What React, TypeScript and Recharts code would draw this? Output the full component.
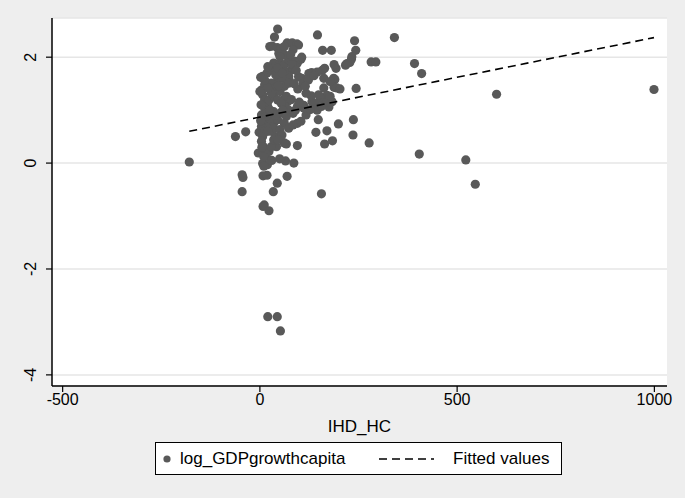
import { ScatterChart, Scatter, XAxis, YAxis, CartesianGrid } from 'recharts';

const FONT = '"Liberation Sans", Arial, sans-serif';
const DOT = '#595959';

// IHD_HC (x) and log_GDPgrowthcapita (y)
const ihdHc = [
  -179, -62, -36, -45, -43, -45, -2, -4, 8, 11, 23, 20, 44, 52, 34, 44, 69, 86, 65, 50,
  7, 8, 18, 19, 10, 95, 67, 62, 42, 142, 170, 164, 184, 236, 237, 199, 148, 156, 277, 404,
  522, 546, 600, 999, 410, 392, 282, 294, 341, 240, 243, 244, 146, 159, 181, 45, 37, 25, 31, 44,
  52, 48, 69, 82, 94, 98, 232, 228, 217, 193, 188, 164, 158, 131, 190, 195, 188, 162, 96, 70,
  106, 233, 221, 145, 124, 98, 73, 187, 170, 153, 132, 111, 90, 60, 183, 175, 145, 203,
  7, 18, 29, 35, 51, 62, 73, 90, 95, 79, 73, 56, 45, 29, 12, 4, 7, 12, 20, 12,
  4, 7, 12, 4, 12, 7, 4, 9, 7, 15, 23, 29, 35, 40, 29, 23, 35, 45, 51, 35,
  23, 35, 51, 62, 73, 40, 29, 62, 73, 84, 67, 62, 73, 84, 95, 104, 117, 128, 111, 95,
  139, 156, 170, 178, 149, 130, 117, 110, 123, 137, 162, 178, 56, 62, 51, 67, 45, 54, 18, 23,
  35, 51, 56, 45, 20, 15, 20, 12, 40, 62, 20, 45, 82, 104, 84, 62,
  2, 0, 3, 5, 10, 2, 26, 30, 38, 58, 80, 100, 115, 87, 47, 92, 106, 78, 57,
];
const logGdpGrowth = [
  0.02, 0.5, 0.59, -0.22, -0.27, -0.54, 0.58, 0.19, -0.82, -0.79, -0.9, -2.9, -2.9, -3.17, -0.54, -0.38, -0.25, 0.0, 0.04, 0.08,
  -0.01, -0.24, -0.23, -0.03, -0.06, 0.33, 0.36, 0.38, 0.31, 0.58, 0.61, 0.36, 0.42, 0.53, 0.82, 0.74, 0.82, -0.58, 0.38, 0.17,
  0.06, -0.4, 1.3, 1.39, 1.69, 1.88, 1.91, 1.91, 2.37, 2.31, 2.13, 1.41, 2.42, 2.13, 2.13, 2.53, 2.38, 2.2, 2.21, 2.18,
  2.16, 2.07, 2.27, 2.27, 2.25, 2.23, 1.96, 1.9, 1.85, 1.79, 1.86, 1.79, 1.75, 1.71, 1.58, 1.42, 1.43, 1.42, 1.4, 1.16,
  1.6, 2.01, 1.88, 1.72, 1.69, 1.63, 1.6, 1.6, 1.28, 1.22, 1.16, 1.09, 1.0, 1.2, 1.16, 1.06, 1.0, 1.4,
  1.64, 1.7, 1.76, 1.89, 1.89, 1.86, 1.95, 1.92, 1.89, 1.76, 1.64, 1.6, 1.57, 1.51, 1.48, 1.38, 1.29, 1.19, 1.07, 1.04,
  0.91, 0.82, 0.75, 0.69, 0.6, 0.5, 0.41, 0.31, 0.22, 0.13, 0.22, 0.31, 0.44, 0.5, 0.6, 0.69, 0.75, 0.82, 0.94, 0.97,
  1.19, 1.26, 1.35, 1.45, 1.51, 1.42, 1.32, 1.07, 1.0, 0.94, 0.88, 0.75, 0.66, 0.72, 0.75, 0.79, 0.91, 1.01, 1.04, 1.07,
  1.13, 1.07, 1.16, 1.26, 1.29, 1.27, 1.32, 1.51, 1.57, 1.65, 1.6, 1.54, 2.11, 2.04, 2.01, 1.26, 1.19, 1.13, 0.94, 0.85,
  0.66, 0.63, 0.53, 0.44, 0.6, 0.88, 1.42, 1.57, 1.67, 1.73, 1.82, 1.79, 1.86, 1.96, 2.14, 2.2,
  1.62, 1.35, 1.1, 0.3, 0.12, 0.8, 1.0, 0.05, 0.9, 1.0, 1.2, 1.15, 1.45, 1.5, 1.46, 1.75, 2.0, 2.05, 1.7,
];

// fitted values line, end points
const fitX = [-179, 999];
const fitY = [0.6, 2.37];

const xTicks = [-500, 0, 500, 1000];
const yTicks = [-4, -2, 0, 2];

const points = ihdHc.map((x, i) => ({ x, y: logGdpGrowth[i] }));
const fitted = fitX.map((x, i) => ({ x, y: fitY[i] }));

function YTick(props: any) {
  const { x, y, payload } = props;
  const tx = x - 8;
  return (
    <text
      x={tx}
      y={y}
      transform={`rotate(-90 ${tx} ${y})`}
      textAnchor="middle"
      fill="#000"
      fontSize={16}
      fontFamily={FONT}
    >
      {payload.value}
    </text>
  );
}

function Dot(props: any) {
  return <circle cx={props.cx} cy={props.cy} r={4.6} fill={DOT} />;
}

export default function App() {
  return (
    <div
      style={{
        position: 'absolute',
        left: 0,
        top: 0,
        width: 685,
        height: 498,
        background: '#eeeeee',
        fontFamily: FONT,
      }}
    >
      <ScatterChart
        width={685}
        height={498}
        margin={{ top: 18, right: 18, bottom: 62, left: 0 }}
      >
        <CartesianGrid vertical={false} stroke="#e6e6e6" strokeWidth={1.5} fill="#ffffff" />
        <XAxis
          type="number"
          dataKey="x"
          domain={[-527, 1032]}
          ticks={xTicks}
          allowDataOverflow
          height={50}
          tickSize={6}
          tickMargin={2}
          axisLine={{ stroke: '#000', strokeWidth: 1.5 }}
          tickLine={{ stroke: '#000', strokeWidth: 1.2 }}
          tick={{ fill: '#000', fontSize: 16, fontFamily: FONT }}
          label={{
            value: 'IHD_HC',
            position: 'insideBottom',
            offset: 4,
            fill: '#000',
            fontSize: 17,
            fontFamily: FONT,
          }}
        />
        <YAxis
          type="number"
          dataKey="y"
          domain={[-4.21, 2.74]}
          ticks={yTicks}
          allowDataOverflow
          width={52}
          tickSize={6}
          tickMargin={2}
          axisLine={{ stroke: '#000', strokeWidth: 1.5 }}
          tickLine={{ stroke: '#000', strokeWidth: 1.2 }}
          tick={<YTick />}
        />
        <Scatter data={points} shape={<Dot />} isAnimationActive={false} />
        <Scatter
          data={fitted}
          line={{ stroke: '#000', strokeWidth: 1.6, strokeDasharray: '8 5' }}
          shape={() => <g />}
          isAnimationActive={false}
        />
      </ScatterChart>
      <div
        style={{
          position: 'absolute',
          left: 155,
          top: 442,
          width: 405,
          height: 31,
          background: '#fff',
          border: '1px solid #000',
          display: 'flex',
          alignItems: 'center',
          fontSize: 17,
          color: '#000',
        }}
      >
        <svg width={24} height={31} style={{ flex: 'none' }}>
          <circle cx={11} cy={16} r={3.6} fill={DOT} />
        </svg>
        <span style={{ width: 198 }}>log_GDPgrowthcapita</span>
        <svg width={75} height={31} style={{ flex: 'none' }}>
          <line x1={1} y1={16} x2={56} y2={16} stroke="#000" strokeWidth={1.6} strokeDasharray="8 5" />
        </svg>
        <span>Fitted values</span>
      </div>
    </div>
  );
}
